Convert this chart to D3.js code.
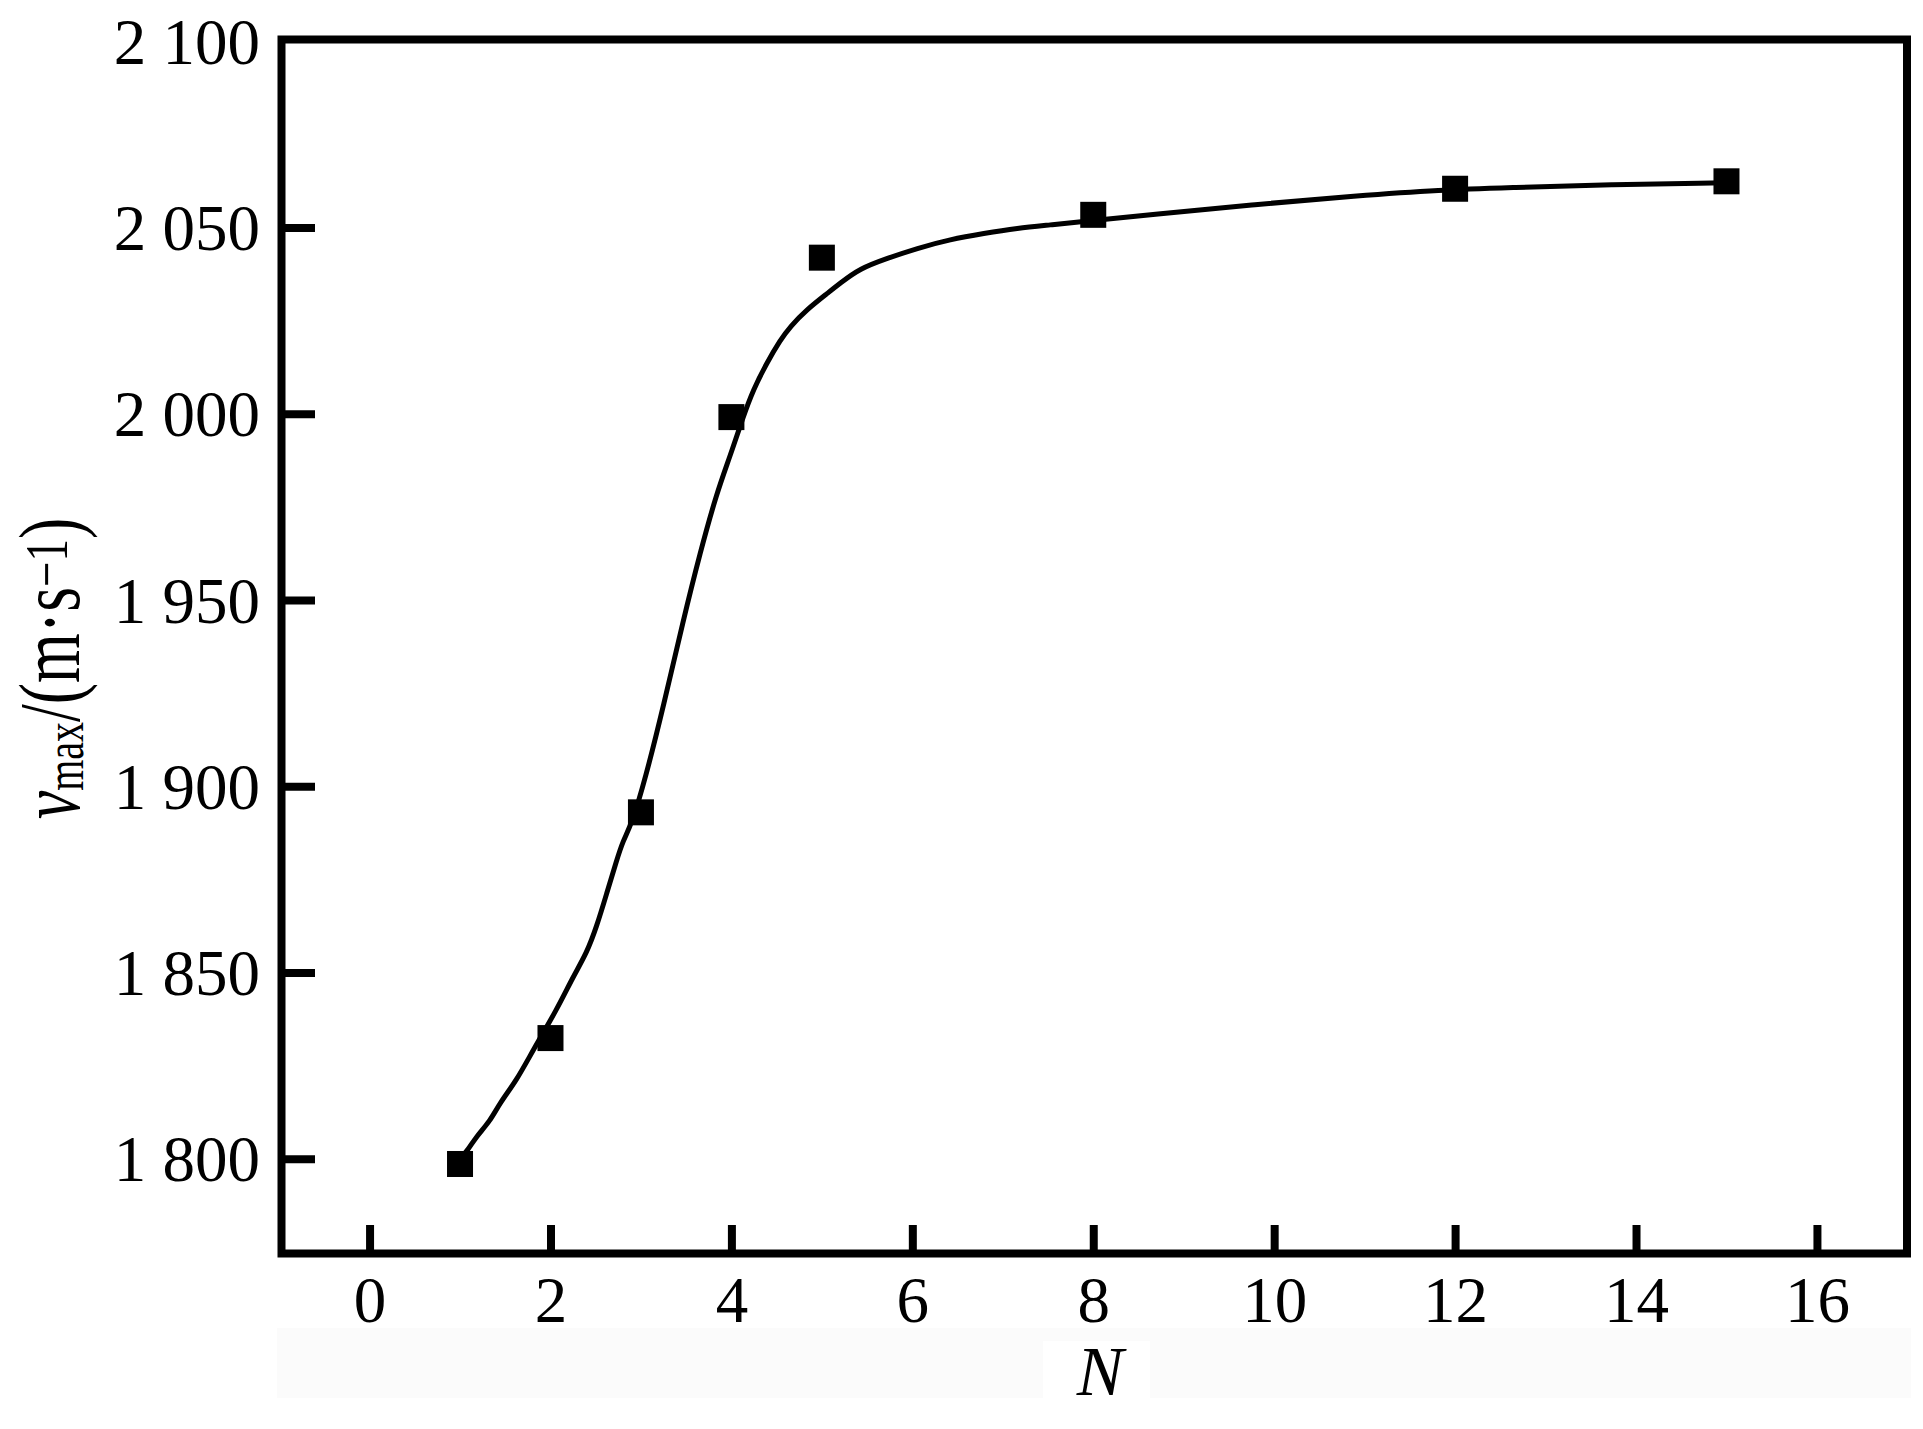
<!DOCTYPE html>
<html>
<head>
<meta charset="utf-8">
<script src="https://cdn.jsdelivr.net/npm/d3@7"></script>
<style>
  html, body { margin: 0; padding: 0; background: #ffffff; }
  svg { display: block; }
</style>
</head>
<body>
<svg id="chart" width="1923" height="1429"></svg>
<script>
// ---- data ----
const N = [1, 2, 3, 4, 5, 8, 12, 15];
const vmax = [1798.6, 1832.4, 1893.0, 1999.1, 2041.9, 2053.4, 2060.4, 2062.4];

// fitted smooth curve
const fitN = [1.0, 1.09, 1.18, 1.33, 1.44, 1.63, 1.81, 2.07, 2.25, 2.40, 2.51, 2.62, 2.73, 2.80, 2.90,
  3.045, 3.248, 3.469, 3.653, 3.837, 3.984, 4.13, 4.24, 4.39, 4.54, 4.65, 4.83, 5.06, 5.20, 5.42,
  5.72, 6.05, 6.42, 6.79, 7.16, 7.53, 7.87, 8.66, 9.79, 10.91, 11.84, 12.61, 13.73, 14.86, 15.0];
const fitV = [1800, 1802.4, 1806, 1810, 1815, 1821.2, 1829.3, 1840, 1848.9, 1855.2, 1862.3, 1871.1, 1880, 1885.3, 1890,
  1901.7, 1921.4, 1944.7, 1962.6, 1978.7, 1988.5, 1999.2, 2006.4, 2013.6, 2019.8, 2023.4, 2027.9, 2032.3, 2035.0, 2039.0,
  2041.7, 2044.4, 2046.8, 2048.4, 2049.8, 2050.7, 2051.6, 2053.5, 2056.2, 2058.5, 2060.1, 2060.7, 2061.6, 2061.9, 2062.0];

const xTicks = [0, 2, 4, 6, 8, 10, 12, 14, 16];
const xTickLabels = ["0", "2", "4", "6", "8", "10", "12", "14", "16"];
const yTicks = [1800, 1850, 1900, 1950, 2000, 2050, 2100];
const yTickLabels = ["1 800", "1 850", "1 900", "1 950", "2 000", "2 050", "2 100"];

const xDomain = [-1, 17];
const yDomain = [1775, 2100];

// ---- layout ----
const frame = { left: 281.5, right: 1907, top: 39.5, bottom: 1253.5 };
const FONT = "'Liberation Serif', 'Times New Roman', serif";

const svg = d3.select("#chart");

const x = d3.scaleLinear().domain(xDomain).range([279.1, 1907.4]);
const y = d3.scaleLinear().domain(yDomain).range([1251.9, 41.24]);

// faint scan band under the x axis
svg.append("rect").attr("x", 277).attr("y", 1328).attr("width", 1634).attr("height", 70).attr("fill", "#fbfbfb");
svg.append("rect").attr("x", 1043).attr("y", 1341).attr("width", 107).attr("height", 57).attr("fill", "#ffffff");

// axes (ticks pointing inward)
const yLabelMap = new Map(yTicks.map((t, i) => [t, yTickLabels[i]]));
const xLabelMap = new Map(xTicks.map((t, i) => [t, xTickLabels[i]]));

const gy = svg.append("g")
  .attr("transform", `translate(${frame.left},0)`)
  .call(d3.axisLeft(y).tickValues(yTicks).tickSize(-33.5).tickPadding(21.5)
    .tickFormat(d => yLabelMap.get(d)));
gy.select(".domain").remove();
gy.selectAll(".tick line").attr("stroke", "#000").attr("stroke-width", 8)
  .attr("visibility", d => d === yDomain[1] ? "hidden" : null);
gy.selectAll(".tick text").attr("font-family", FONT).attr("font-size", 65).attr("fill", "#000")
  .attr("dy", "0.34em");

const gx = svg.append("g")
  .attr("transform", `translate(0,${frame.bottom})`)
  .call(d3.axisBottom(x).tickValues(xTicks).tickSize(-28.5).tickPadding(22.4)
    .tickFormat(d => xLabelMap.get(d)));
gx.select(".domain").remove();
gx.selectAll(".tick line").attr("stroke", "#000").attr("stroke-width", 8);
gx.selectAll(".tick text").attr("font-family", FONT).attr("font-size", 65).attr("fill", "#000");

// frame
svg.append("rect")
  .attr("x", frame.left).attr("y", frame.top)
  .attr("width", frame.right - frame.left).attr("height", frame.bottom - frame.top)
  .attr("fill", "none").attr("stroke", "#000").attr("stroke-width", 8);

// fitted curve
const fitData = fitN.map((n, i) => [n, fitV[i]]);
svg.append("path")
  .datum(fitData)
  .attr("fill", "none")
  .attr("stroke", "#000")
  .attr("stroke-width", 5)
  .attr("stroke-linejoin", "round")
  .attr("d", d3.line().x(d => x(d[0])).y(d => y(d[1])).curve(d3.curveBasis));

// markers
const ms = 26;
svg.append("g").selectAll("rect")
  .data(N.map((n, i) => [n, vmax[i]]))
  .join("rect")
  .attr("x", d => x(d[0]) - ms / 2)
  .attr("y", d => y(d[1]) - ms / 2)
  .attr("width", ms).attr("height", ms)
  .attr("fill", "#000");

// x title
svg.append("text")
  .attr("x", 1100).attr("y", 1395)
  .attr("text-anchor", "middle")
  .attr("font-family", FONT).attr("font-style", "italic").attr("font-size", 70)
  .attr("fill", "#000")
  .text("N");

// y title
const yt = svg.append("text")
  .attr("transform", "translate(79,668.5) rotate(-90) scale(1,1.35)")
  .attr("text-anchor", "middle")
  .attr("font-family", FONT).attr("font-size", 64).attr("fill", "#000");
yt.append("tspan").attr("font-style", "italic").text("v");
yt.append("tspan").attr("font-size", 40).attr("dy", 3).text("max");
yt.append("tspan").attr("dy", -3).text("/(m·s");
yt.append("tspan").attr("font-size", 45).attr("dy", -9).text("−1");
yt.append("tspan").attr("dy", 9).text(")");
</script>
</body>
</html>
